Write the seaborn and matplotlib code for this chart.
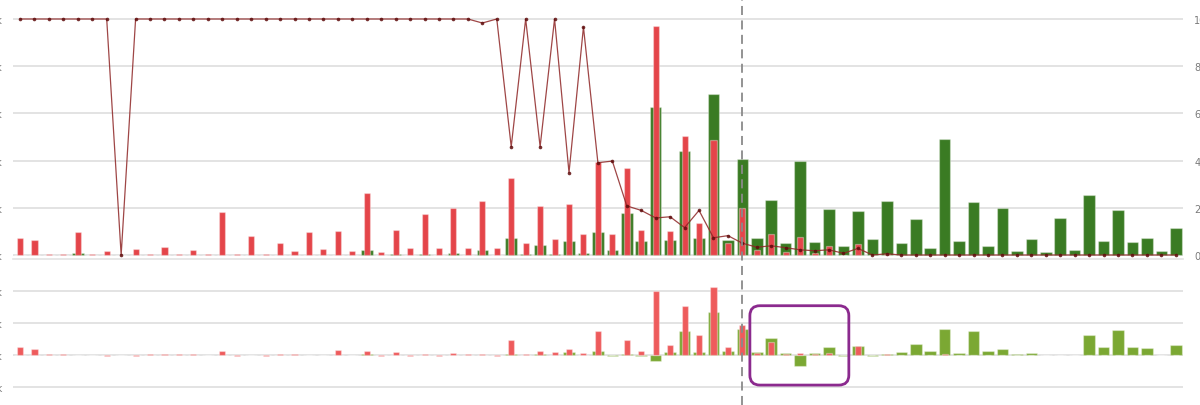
import numpy as np
import pandas as pd
import matplotlib
matplotlib.use("Agg")
import matplotlib.pyplot as plt
import matplotlib.transforms as mtransforms
from matplotlib.patches import FancyBboxPatch
from matplotlib.lines import Line2D
import seaborn as sns

# ---------------- data ----------------
categories = [f"P{i + 1}" for i in range(81)]

top_red = [0.72, 0.64, 0.04, 0.05, 0.96, 0.05, 0.17, 0.00, 0.27, 0.05,
           0.35, 0.04, 0.20, 0.03, 1.82, 0.04, 0.82, 0.03, 0.52, 0.17,
           0.96, 0.25, 1.00, 0.18, 2.61, 0.13, 1.06, 0.28, 1.74, 0.28,
           1.98, 0.28, 2.27, 0.28, 3.25, 0.51, 2.06, 0.68, 2.17, 0.88,
           3.93, 0.88, 3.67, 1.05, 9.72, 1.02, 5.03, 1.37, 4.87, 0.52,
           1.98, 0.21, 0.88, 0.13, 0.76, 0.08, 0.37, 0.00, 0.47, 0.00,
           0.05, 0.00, 0.00, 0.00, 0.00, 0.00, 0.00, 0.00, 0.00, 0.00,
           0.00, 0.00, 0.00, 0.00, 0.00, 0.00, 0.00, 0.00, 0.00, 0.00,
           0.00]

top_green = [0.00, 0.00, 0.00, 0.00, 0.08, 0.00, 0.00, 0.00, 0.00, 0.00,
             0.00, 0.00, 0.00, 0.00, 0.00, 0.00, 0.00, 0.00, 0.00, 0.00,
             0.00, 0.00, 0.00, 0.00, 0.20, 0.00, 0.05, 0.00, 0.05, 0.00,
             0.07, 0.00, 0.22, 0.00, 0.70, 0.03, 0.42, 0.03, 0.61, 0.07,
             0.99, 0.22, 1.79, 0.58, 6.28, 0.64, 4.39, 0.72, 6.83, 0.65,
             4.08, 0.72, 2.32, 0.51, 4.00, 0.54, 1.94, 0.37, 1.88, 0.66,
             2.29, 0.50, 1.53, 0.28, 4.93, 0.61, 2.23, 0.37, 1.98, 0.16,
             0.68, 0.11, 1.58, 0.20, 2.56, 0.58, 1.91, 0.54, 0.72, 0.16,
             1.13]

ratio_line = [100, 100, 100, 100, 100, 100, 100, 0, 100, 100,
              100, 100, 100, 100, 100, 100, 100, 100, 100, 100,
              100, 100, 100, 100, 100, 100, 100, 100, 100, 100,
              100, 100, 98.3, 100, 45.9, 100, 45.9, 100, 34.9, 96.6,
              39.1, 39.8, 20.8, 18.9, 15.7, 16.2, 11.6, 18.9, 7.3, 8.2,
              5.0, 3.3, 3.9, 3.1, 2.2, 1.8, 2.2, 0.7, 2.8, 0.0,
              0.5, 0, 0, 0, 0, 0, 0, 0, 0, 0,
              0, 0, 0, 0, 0, 0, 0, 0, 0, 0,
              0]

bottom_red = [0.26, 0.19, 0.02, 0.02, 0.00, 0.00, -0.02, 0.00, -0.02, 0.02,
              0.02, 0.02, 0.02, 0.00, 0.13, -0.02, 0.00, -0.02, 0.02, 0.03,
              0.00, 0.00, 0.16, 0.00, 0.13, -0.03, 0.09, -0.03, 0.04, -0.02,
              0.06, 0.02, 0.04, -0.02, 0.48, 0.04, 0.11, 0.09, 0.20, 0.06,
              0.75, 0.00, 0.48, 0.11, 1.99, 0.32, 1.52, 0.63, 2.14, 0.26,
              0.93, 0.06, 0.42, 0.03, 0.07, 0.02, 0.07, 0.00, 0.28, 0.00,
              0.04, 0.00, 0.00, 0.00, 0.02, 0.00, 0.00, 0.00, 0.00, 0.00,
              0.00, 0.00, 0.00, 0.00, 0.00, 0.00, 0.00, 0.00, 0.00, 0.00,
              0.00]

bottom_green = [0.00, 0.00, 0.00, 0.00, 0.00, 0.00, 0.00, 0.00, 0.00, 0.00,
                0.00, 0.00, 0.00, 0.00, 0.00, 0.00, 0.00, 0.00, 0.00, 0.00,
                0.00, 0.00, 0.00, 0.00, 0.02, 0.00, 0.00, 0.00, 0.00, 0.00,
                0.00, 0.00, 0.01, 0.00, 0.02, 0.00, 0.02, 0.00, 0.10, 0.00,
                0.11, -0.02, 0.03, -0.04, -0.20, 0.08, 0.74, 0.10, 1.33, 0.12,
                0.82, 0.09, 0.52, 0.06, -0.33, 0.06, 0.26, -0.02, 0.28, -0.02,
                0.03, 0.09, 0.34, 0.14, 0.82, 0.05, 0.76, 0.14, 0.20, 0.04,
                0.05, 0.01, 0.00, 0.01, 0.63, 0.24, 0.78, 0.24, 0.21, 0.00,
                0.32]

top_left_ticks = [0, 2, 4, 6, 8, 10]
top_left_labels = ["0k", "2k", "4k", "6k", "8k", "10k"]
top_right_ticks = [0, 20, 40, 60, 80, 100]
top_right_labels = ["0", "20", "40", "60", "80", "100"]
bottom_ticks = [-1, 0, 1, 2]
bottom_labels = ["-1k", "0k", "1k", "2k"]

split_index = 50                    # dashed divider position (category index)
highlight_x = (50.52, 57.37)        # highlighted box extent (category units)
highlight_y = (-0.94, 1.54)         # highlighted box extent (bottom panel units)

# ---------------- style ----------------
RED_TOP = "#e4454a"
GREEN_TOP = "#3a7b23"
RED_BOT = "#ee5b5c"
GREEN_BOT = "#7ba833"
LINE_C = "#8e2626"
DOT_C = "#5e0c0c"
GRID_C = "#e3e3e3"
TICK_C = "#7a7a7a"
EDGE = (1, 1, 1, 0.35)

sns.set_theme(style="white")
plt.rcParams["font.family"] = ["DejaVu Sans"]

W, H = 1200, 406
fig = plt.figure(figsize=(W / 100, H / 100), dpi=100)

left_px, right_px = 12.8, 1183.0
ax_top = fig.add_axes([left_px / W, (H - 259.5) / H, (right_px - left_px) / W, 259.5 / H])
ax_bot = fig.add_axes([left_px / W, 0.0, (right_px - left_px) / W, (H - 270) / H])

df = pd.DataFrame({
    "cat": categories,
    "top_red": top_red,
    "top_green": top_green,
    "bottom_red": bottom_red,
    "bottom_green": bottom_green,
})
df["idx"] = np.arange(len(categories))
df["ratio"] = ratio_line
XLIM = (-0.5, len(categories) - 0.5)

# top panel bars
sns.barplot(data=df, x="cat", y="top_green", color=GREEN_TOP, saturation=1,
            width=0.8, edgecolor=EDGE, linewidth=0.9, errorbar=None, ax=ax_top)
sns.barplot(data=df, x="cat", y="top_red", color=RED_TOP, saturation=1,
            width=0.42, edgecolor=EDGE, linewidth=0.9, errorbar=None, ax=ax_top)

ax_top.set_ylim(-0.148, 10.847)
ax_top.set_yticks(top_left_ticks)
ax_top.set_yticklabels(top_left_labels)
ax_top.yaxis.grid(True, color=GRID_C, lw=1.4)
ax_top.set_axisbelow(True)
ax_top.set_xticks([])
ax_top.set_xlabel("")
ax_top.set_ylabel("")
ax_top.tick_params(axis="y", length=0, pad=7.5, labelsize=7, labelcolor=TICK_C)
for s in ["top", "left", "right"]:
    ax_top.spines[s].set_visible(False)
ax_top.spines["bottom"].set_color(GRID_C)
ax_top.spines["bottom"].set_linewidth(1.2)

# ratio line on right axis
ax_r = ax_top.twinx()
sns.lineplot(data=df, x="idx", y="ratio", ax=ax_r, color=LINE_C, lw=0.9, alpha=0.85,
             marker="o", markersize=2.6, markerfacecolor=DOT_C, markeredgewidth=0)
ax_r.set_ylim(-1.48, 108.47)
ax_r.set_yticks(top_right_ticks)
ax_r.set_yticklabels(top_right_labels)
ax_r.tick_params(axis="y", length=0, pad=8, labelsize=7, labelcolor=TICK_C)
ax_r.set_ylabel("")
ax_r.set_xlabel("")
for s in ax_r.spines.values():
    s.set_visible(False)
ax_top.set_xlim(*XLIM)
ax_r.set_xlim(*XLIM)
ax_top.set_xticks([])

# bottom panel bars
sns.barplot(data=df, x="cat", y="bottom_green", color=GREEN_BOT, saturation=1,
            width=0.8, edgecolor=EDGE, linewidth=0.9, errorbar=None, ax=ax_bot)
sns.barplot(data=df, x="cat", y="bottom_red", color=RED_BOT, saturation=1,
            width=0.42, edgecolor=EDGE, linewidth=0.9, errorbar=None, ax=ax_bot)
ax_bot.set_ylim(-1.5625, 2.6875)
ax_bot.set_yticks(bottom_ticks)
ax_bot.set_yticklabels(bottom_labels)
ax_bot.yaxis.grid(True, color=GRID_C, lw=1.4)
ax_bot.set_axisbelow(True)
ax_bot.set_xticks([])
ax_bot.set_xlabel("")
ax_bot.set_ylabel("")
ax_bot.tick_params(axis="y", length=0, pad=7.5, labelsize=7, labelcolor=TICK_C)
for s in ax_bot.spines.values():
    s.set_visible(False)
ax_bot.set_xlim(*XLIM)

# dashed divider across the whole figure
trans = mtransforms.blended_transform_factory(ax_top.transData, fig.transFigure)
fig.add_artist(Line2D([split_index, split_index], [0, 1], transform=trans,
                      color="#8a8a8a", lw=1.3, linestyle=(0, (5, 3)), zorder=10))

# highlight box (rounded, in pixel space so corners stay circular)
(x0, y0) = ax_bot.transData.transform((highlight_x[0], highlight_y[0]))
(x1, y1) = ax_bot.transData.transform((highlight_x[1], highlight_y[1]))
box = FancyBboxPatch((x0, y0), x1 - x0, y1 - y0,
                     boxstyle="round,pad=0,rounding_size=10",
                     transform=mtransforms.IdentityTransform(),
                     facecolor="none", edgecolor="#8b2a8e", lw=2.0, zorder=11)
fig.add_artist(box)

fig.savefig("out.png", dpi=100)
